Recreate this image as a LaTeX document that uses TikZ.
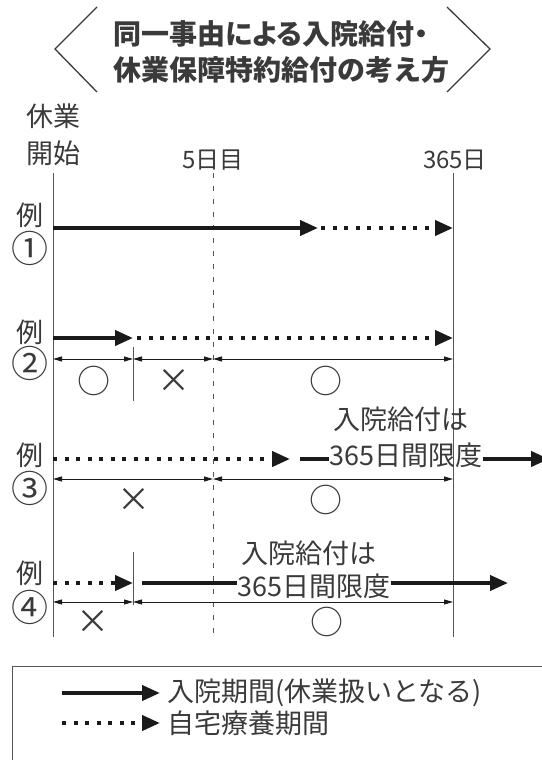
\documentclass[tikz,border=0pt]{standalone}
\usepackage{fontspec}
\setmainfont{Noto Sans CJK JP}
\newfontfamily\jpprop[RawFeature=+palt]{Noto Sans CJK JP}
\usetikzlibrary{arrows.meta}
\definecolor{txt}{HTML}{3A3A3A}
\definecolor{ink}{HTML}{1A1A1A}
\definecolor{rulec}{HTML}{555555}
\begin{document}
\begin{tikzpicture}[x=1pt,y=-1pt,
  lbl/.style={inner sep=0pt, text=txt, font=\fontsize{27}{29}\selectfont},
  axl/.style={inner sep=0pt, text=txt, font=\fontsize{24}{26}\selectfont},
  num/.style={inner sep=0pt, text=txt, font=\fontsize{37}{38}\selectfont},
  ttl/.style={inner sep=0pt, text=txt, font=\fontsize{28}{30}\selectfont\bfseries},
  sym/.style={inner sep=0pt, text=txt, font=\fontsize{33}{34}\selectfont},
  hosp/.style={draw=ink, line width=4pt, -{Triangle[length=18pt,width=15pt]}},
  hospline/.style={draw=ink, line width=4pt},
  home/.style={draw=ink, line width=4pt, dash pattern=on 4pt off 7.5pt, -{Triangle[length=18pt,width=15pt]}},
  dim/.style={draw=ink, line width=0.9pt, {Triangle[length=9pt,width=5pt]}-{Triangle[length=9pt,width=5pt]}},
  vline/.style={draw=rulec, line width=1pt},
  dline/.style={draw=rulec, line width=1pt, dash pattern=on 5pt off 8pt},
  tick/.style={draw=rulec, line width=1pt},
  chev/.style={draw=txt, line width=1.3pt},
]
\useasboundingbox (0,0) rectangle (541,760);

% title
\coordinate (cl1) at (97,7); \coordinate (cl2) at (55,49); \coordinate (cl3) at (97,92);
\coordinate (cr1) at (447,7); \coordinate (cr2) at (490,49); \coordinate (cr3) at (447,92);
\draw[chev] (cl1) -- (cl2) -- (cl3);
\draw[chev] (cr1) -- (cr2) -- (cr3);
\node[ttl, font=\fontsize{28}{30}\selectfont\jpprop\bfseries] (t1) at (271,34) {同一事由による入院給付・};
\node[ttl] (t2) at (281,70) {休業保障特約給付の考え方};

% axis labels
\node[lbl] (kyu) at (53,116) {休業};
\node[lbl] (kai) at (53,153) {開始};
\node[axl] (d5) at (213,160) {5日目};
\node[axl] (d365) at (455,160) {365日};

% vertical lines
\coordinate (v0t) at (53,173); \coordinate (v0b) at (53,637);
\coordinate (v5t) at (213,173); \coordinate (v5b) at (213,637);
\coordinate (vet) at (453,173); \coordinate (veb) at (453,637);
\draw[vline] (v0t) -- (v0b);
\draw[dline] (v5t) -- (v5b);
\draw[vline] (vet) -- (veb);

% example 1
\node[lbl] (r1) at (30,215) {例};
\node[num] (n1) at (30,248) {①};
\coordinate (a1) at (53,228); \coordinate (b1) at (318,228);
\coordinate (c1) at (321,228); \coordinate (d1) at (453,228);
\draw[hosp] (a1) -- (b1);
\draw[home] (c1) -- (d1);

% example 2
\node[lbl] (r2) at (30,332) {例};
\node[num] (n2) at (30,363) {②};
\coordinate (a2) at (53,338); \coordinate (b2) at (133,338);
\coordinate (c2) at (137,338); \coordinate (d2) at (453,338);
\draw[hosp] (a2) -- (b2);
\draw[home] (c2) -- (d2);
\coordinate (m2a) at (53,359); \coordinate (m2b) at (133,359);
\coordinate (m2c) at (213,359); \coordinate (m2d) at (453,359);
\draw[dim] (m2a) -- (m2b);
\draw[dim] (m2b) -- (m2c);
\draw[dim] (m2c) -- (m2d);
\coordinate (k2t) at (133,347); \coordinate (k2b) at (133,401);
\draw[tick] (k2t) -- (k2b);
\node[sym] (s2a) at (94,381) {○};
\node[sym] (s2b) at (174,381) {×};
\node[sym] (s2c) at (326,381) {○};

% example 3
\node[lbl] (r3) at (30,455) {例};
\node[num] (n3) at (30,488) {③};
\coordinate (a3) at (53,459); \coordinate (b3) at (290,459);
\draw[home] (a3) -- (b3);
\node[lbl] (u3) at (401,419) {入院給付は};
\node[lbl] (l3) at (406,455) {365日間限度};
\coordinate (c3) at (300,459); \coordinate (e3) at (549,459);
\draw[hospline] (c3) -- (l3.west |- c3);
\draw[hosp] (l3.east |- c3) -- (e3);
\coordinate (m3a) at (53,479); \coordinate (m3c) at (213,479); \coordinate (m3d) at (453,479);
\draw[dim] (m3a) -- (m3c);
\draw[dim] (m3c) -- (m3d);
\node[sym] (s3a) at (134,500) {×};
\node[sym] (s3b) at (326,500) {○};

% example 4
\node[lbl] (r4) at (30,573) {例};
\node[num] (n4) at (30,607) {④};
\coordinate (a4) at (53,583); \coordinate (b4) at (133,583);
\draw[home] (a4) -- (b4);
\coordinate (k4t) at (133,552); \coordinate (k4b) at (133,605);
\draw[tick] (k4t) -- (k4b);
\node[lbl] (u4) at (309,553) {入院給付は};
\node[lbl] (l4) at (314,586) {365日間限度};
\coordinate (c4) at (142,583); \coordinate (e4) at (508,583);
\draw[hospline] (c4) -- (l4.west |- c4);
\draw[hosp] (l4.east |- c4) -- (e4);
\coordinate (m4a) at (53,602); \coordinate (m4b) at (133,602); \coordinate (m4d) at (453,602);
\draw[dim] (m4a) -- (m4b);
\draw[dim] (m4b) -- (m4d);
\node[sym] (s4a) at (93,622) {×};
\node[sym] (s4b) at (327,622) {○};

% legend
\coordinate (bx1) at (12,666); \coordinate (bx2) at (570,790);
\draw[draw=rulec, line width=1pt] (bx1) rectangle (bx2);
\coordinate (la1) at (62,693); \coordinate (lb1) at (160,693);
\coordinate (la2) at (62,723); \coordinate (lb2) at (160,723);
\draw[hosp] (la1) -- (lb1);
\draw[home] (la2) -- (lb2);
\node[lbl, anchor=west] (lt1) at (167,693) {入院期間(休業扱いとなる)};
\node[lbl, anchor=west] (lt2) at (167,723) {自宅療養期間};
\end{tikzpicture}
\end{document}
